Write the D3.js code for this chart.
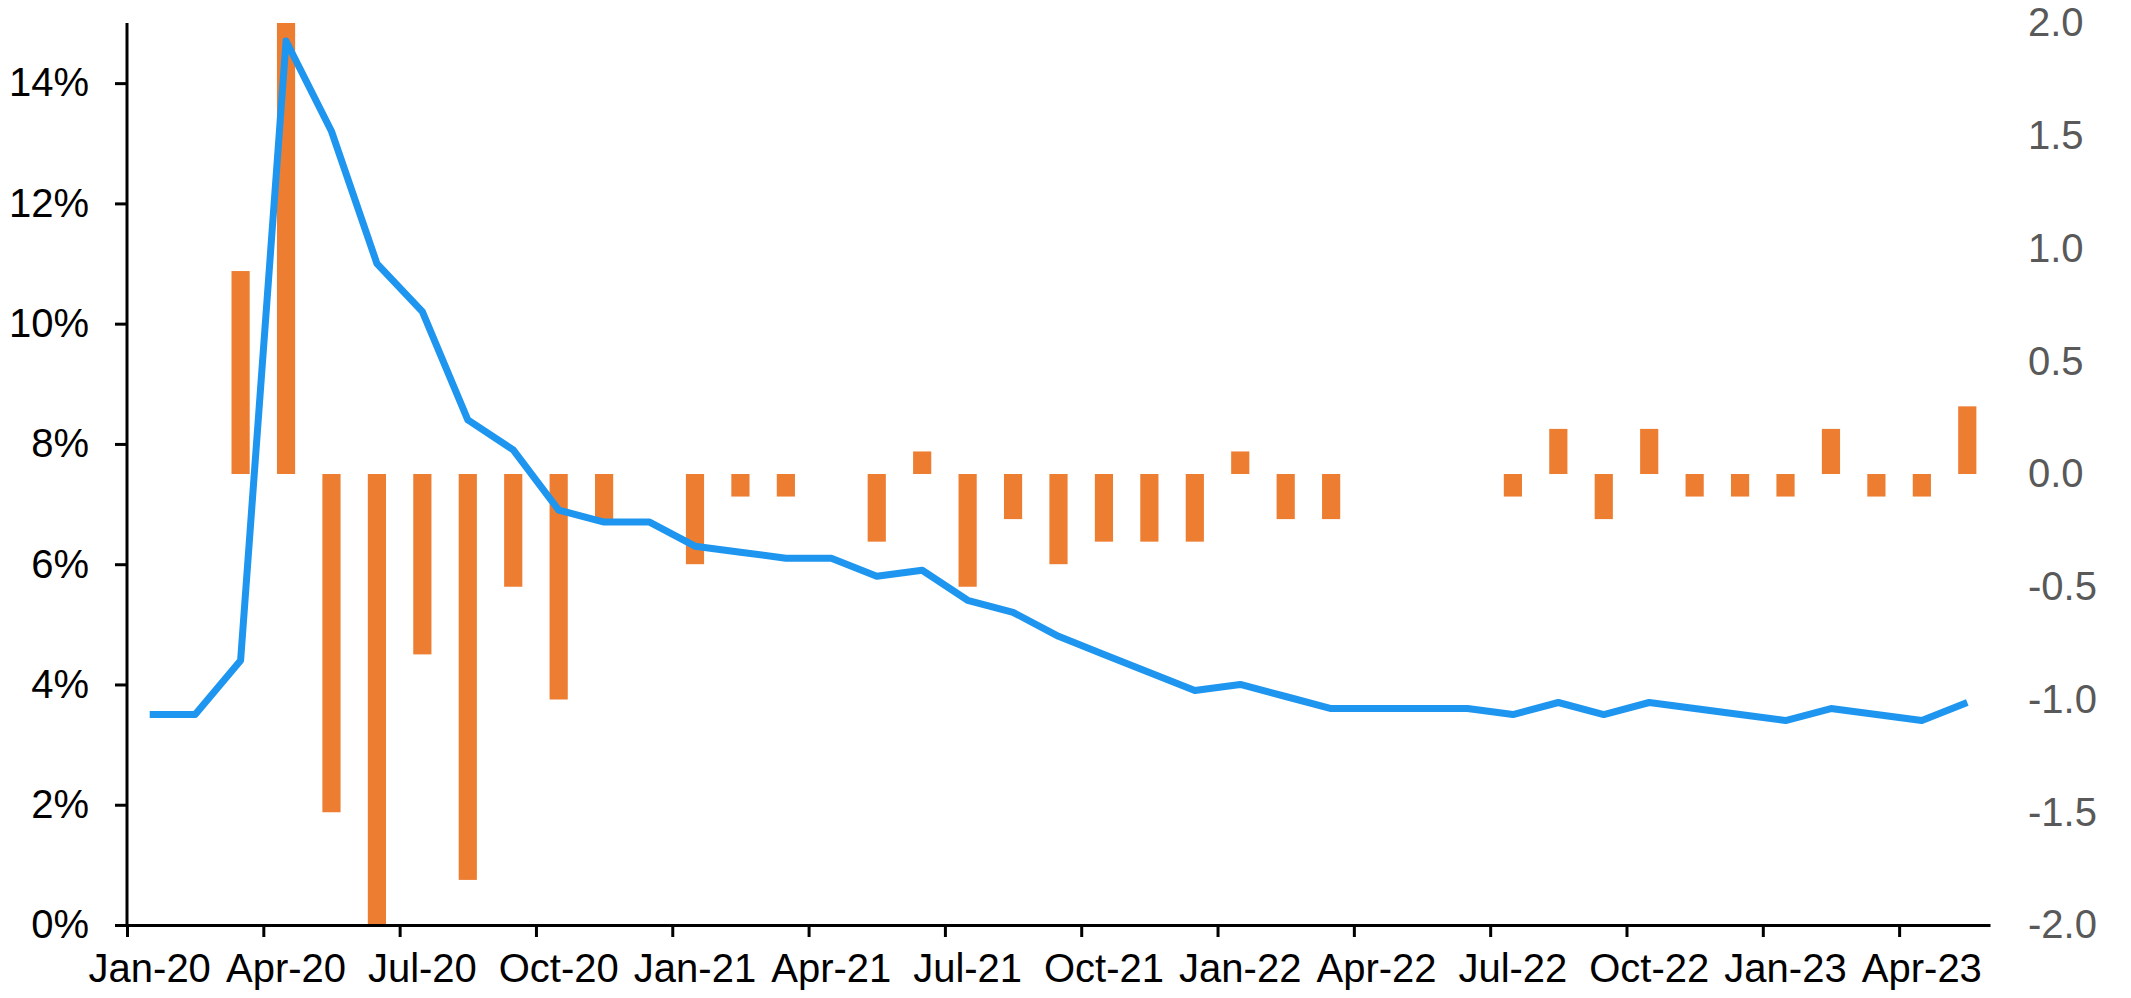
<!DOCTYPE html>
<html>
<head>
<meta charset="utf-8">
<script src="https://cdn.jsdelivr.net/npm/d3@7"></script>
<style>
  body { margin: 0; background: #fff; }
  text { font-family: "Liberation Sans", Arial, sans-serif; }
</style>
</head>
<body>
<div id="chart"></div>
<script>
const months = [
  "Jan-20", "Feb-20", "Mar-20", "Apr-20", "May-20", "Jun-20", "Jul-20", "Aug-20", "Sep-20", "Oct-20", "Nov-20", "Dec-20",
  "Jan-21", "Feb-21", "Mar-21", "Apr-21", "May-21", "Jun-21", "Jul-21", "Aug-21", "Sep-21", "Oct-21", "Nov-21", "Dec-21",
  "Jan-22", "Feb-22", "Mar-22", "Apr-22", "May-22", "Jun-22", "Jul-22", "Aug-22", "Sep-22", "Oct-22", "Nov-22", "Dec-22",
  "Jan-23", "Feb-23", "Mar-23", "Apr-23", "May-23"
];

// unemployment rate, % (left axis)
const rate = [
  3.5, 3.5, 4.4, 14.7, 13.2, 11.0, 10.2, 8.4, 7.9, 6.9, 6.7, 6.7,
  6.3, 6.2, 6.1, 6.1, 5.8, 5.9, 5.4, 5.2, 4.8, 4.5, 4.2, 3.9,
  4.0, 3.8, 3.6, 3.6, 3.6, 3.6, 3.5, 3.7, 3.5, 3.7, 3.6, 3.5,
  3.4, 3.6, 3.5, 3.4, 3.7
];

// monthly change, pp (right axis, bars run off the axis range in Apr/Jun-20)
const change = [
  0, 0, 0.9, 10.3, -1.5, -2.2, -0.8, -1.8, -0.5, -1.0, -0.2, 0,
  -0.4, -0.1, -0.1, 0, -0.3, 0.1, -0.5, -0.2, -0.4, -0.3, -0.3, -0.3,
  0.1, -0.2, -0.2, 0, 0, 0, -0.1, 0.2, -0.2, 0.2, -0.1, -0.1,
  -0.1, 0.2, -0.1, -0.1, 0.3
];

const leftTicks = [0, 2, 4, 6, 8, 10, 12, 14];
const rightTicks = [-2, -1.5, -1, -0.5, 0, 0.5, 1, 1.5, 2];

const margin = { top: 23, right: 141, bottom: 73, left: 127 },
  width = 2131 - margin.left - margin.right,
  height = 998 - margin.top - margin.bottom;

const svg = d3
  .select("#chart")
  .append("svg")
  .attr("width", width + margin.left + margin.right)
  .attr("height", height + margin.top + margin.bottom)
  .append("g")
  .attr("transform", `translate(${margin.left}, ${margin.top})`);

const x = d3.scaleBand().domain(months).range([0, width]).padding(0);
// month index scale, used for tick marks on month boundaries
const xi = d3.scaleLinear().domain([0, months.length]).range([0, width]);
const yL = d3.scaleLinear().domain([0, 15]).range([height, 0]);
const yR = d3.scaleLinear().domain([-2, 2]).range([height, 0]).clamp(true);

// bars
const barW = x.bandwidth() * 0.4;
svg
  .selectAll(".bar")
  .data(months.map((m, i) => ({ m, v: change[i] })))
  .join("rect")
  .attr("class", "bar")
  .attr("x", (d) => x(d.m) + (x.bandwidth() - barW) / 2)
  .attr("y", (d) => Math.min(yR(d.v), yR(0)))
  .attr("width", barW)
  .attr("height", (d) => Math.abs(yR(d.v) - yR(0)))
  .style("fill", "#ED7D31");

// line
const line = d3
  .line()
  .x((d, i) => x(months[i]) + x.bandwidth() / 2)
  .y((d) => yL(d));

svg
  .append("path")
  .datum(rate)
  .attr("d", line)
  .style("fill", "none")
  .style("stroke", "#1E96F0")
  .style("stroke-width", 7)
  .style("stroke-linejoin", "round");

// left axis
const gl = svg
  .append("g")
  .call(
    d3
      .axisLeft(yL)
      .tickValues(leftTicks)
      .tickFormat((d) => d + "%")
      .tickSize(12)
      .tickPadding(26)
  );
gl.select(".domain").attr("d", `M0,${height}V0`);
gl.selectAll("line, .domain").style("stroke", "#000").style("stroke-width", 3);
gl.selectAll("text").style("font-size", "40px").style("fill", "#000");

// bottom axis: tick marks on boundaries, labels centred on months
const gt = svg
  .append("g")
  .attr("transform", `translate(0, ${height})`)
  .call(
    d3
      .axisBottom(xi)
      .tickValues(d3.range(0, months.length, 3))
      .tickFormat("")
      .tickSize(12)
      .tickSizeOuter(0)
  );
gt.selectAll("line, .domain").style("stroke", "#000").style("stroke-width", 3);

const gx = svg
  .append("g")
  .attr("transform", `translate(0, ${height})`)
  .call(
    d3
      .axisBottom(x)
      .tickValues(months.filter((m, i) => i % 3 === 0))
      .tickSize(0)
      .tickPadding(29)
  );
gx.select(".domain").remove();
gx.selectAll("text").style("font-size", "40px").style("fill", "#000");

// right axis (labels only)
const gr = svg
  .append("g")
  .attr("transform", `translate(${width}, 0)`)
  .call(
    d3
      .axisRight(yR)
      .tickValues(rightTicks)
      .tickSize(0)
      .tickPadding(38)
  );
gr.select(".domain").remove();
gr.selectAll("text")
  .text((d) => d3.format(".1f")(d).replace("−", "-"))
  .style("font-size", "40px")
  .style("fill", "#595959");
</script>
</body>
</html>
